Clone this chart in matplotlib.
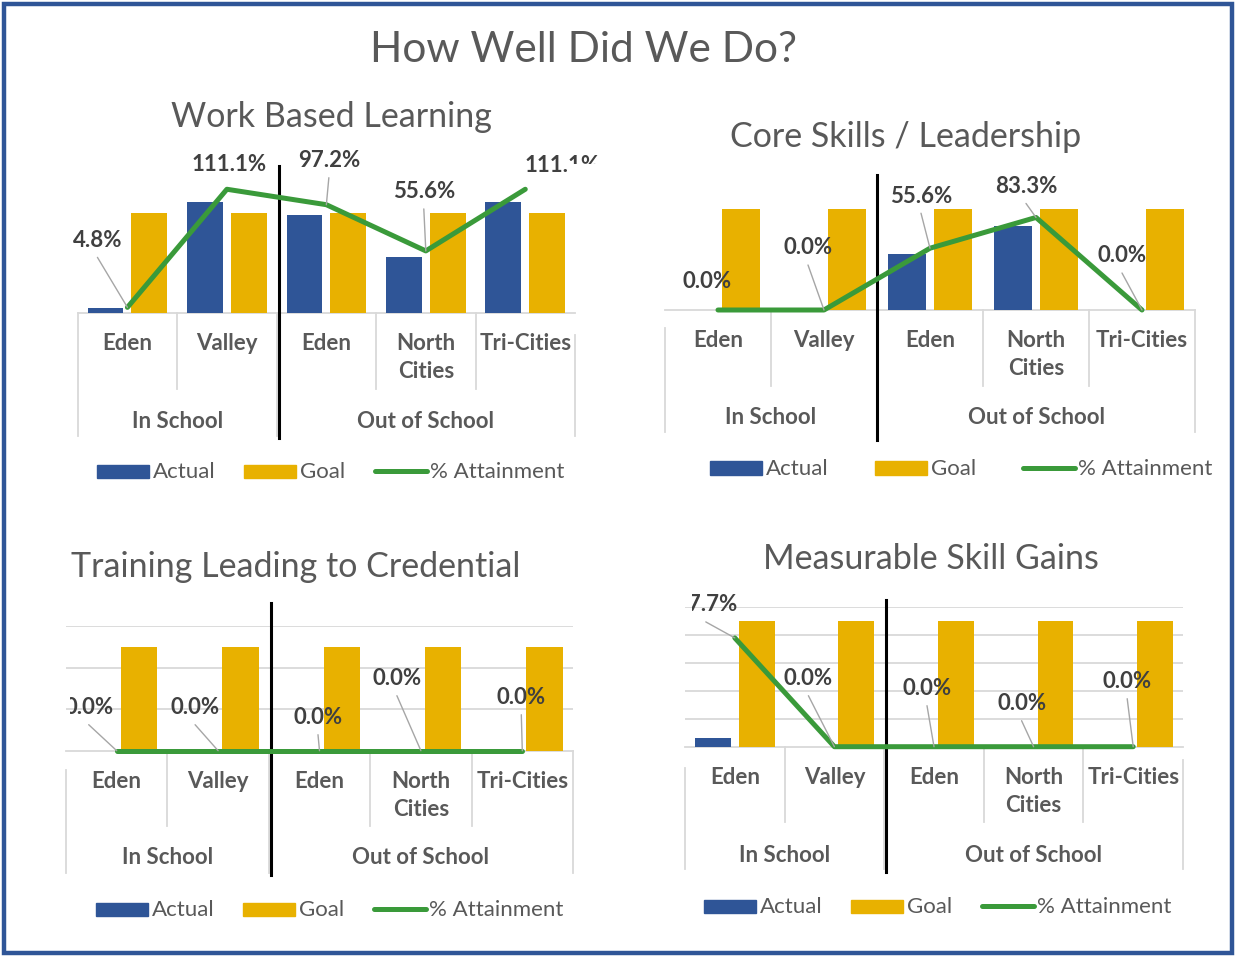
import matplotlib
matplotlib.use('Agg')
import matplotlib.pyplot as plt
import numpy as np
from matplotlib.patches import Rectangle
from matplotlib.lines import Line2D
from matplotlib.transforms import offset_copy

plt.rcParams['font.family'] = ['Lato', 'DejaVu Sans']

# --- data ---
categories = ['Eden', 'Valley', 'Eden', 'North\nCities', 'Tri-Cities']
groups = ['In School', 'Out of School']
group_centers = [0.5, 3.0]

wbl_actual = [4.8, 111.1, 97.2, 55.6, 111.1]
wbl_goal = [100, 100, 100, 100, 100]
wbl_pct = [4.8, 111.1, 97.2, 55.6, 111.1]

core_actual = [0, 0, 55.6, 83.3, 0]
core_goal = [100, 100, 100, 100, 100]
core_pct = [0.0, 0.0, 55.6, 83.3, 0.0]

tlc_actual = [0, 0, 0, 0, 0]
tlc_goal = [5, 5, 5, 5, 5]
tlc_pct = [0.0, 0.0, 0.0, 0.0, 0.0]

msg_actual = [0.6, 0, 0, 0, 0]
msg_goal = [9, 9, 9, 9, 9]
msg_pct = [77.7, 0.0, 0.0, 0.0, 0.0]

BLUE = '#2F5597'
GOLD = '#E8B100'
GREEN = '#3A9A3A'
GRID = '#D9D9D9'
TXT = '#595959'
LBL = '#404040'

W, H = 1236, 957
fig = plt.figure(figsize=(W / 100, H / 100), dpi=100)


def fx(x):
    return x / W


def fy(y):
    return 1 - y / H


def panel(title, actual, goal, pct, lay):
    L, R, top, base = lay['L'], lay['R'], lay['top'], lay['base']
    ax = fig.add_axes([fx(L), fy(base), (R - L) / W, (base - top) / H])
    ax.set_xlim(-0.5, 4.5)
    ax.set_ylim(0, lay['y1'])
    ax.axis('off')
    ax2 = ax.twinx()
    ax2.set_ylim(0, lay['y2'])
    ax2.axis('off')

    def ty(ypx):
        return (base - ypx) / (base - top)

    tr = ax.get_xaxis_transform()
    x = np.arange(len(categories))

    if lay['grid']:
        for v in np.arange(lay['grid'], lay['y1'] + 1e-9, lay['grid']):
            ax.axhline(v, color=GRID, lw=1.3, zorder=0)

    ax.bar(x - 0.22, actual, 0.36, color=BLUE, zorder=2)
    ax.bar(x + 0.22, goal, 0.36, color=GOLD, zorder=2)

    # category table
    ax.plot([-0.5, 4.5], [0, 0], transform=tr, color=GRID, lw=1.3, clip_on=False, zorder=1)
    for xd in [0.5, 2.5, 3.5]:
        ax.plot([xd, xd], [0, ty(lay['mid'])], transform=tr, color=GRID, lw=1.3, clip_on=False)
    for xd, y0 in [(-0.5, lay['lstart']), (1.5, base), (4.5, lay['rstart'])]:
        ax.plot([xd, xd], [ty(y0), ty(lay['bot'])], transform=tr, color=GRID, lw=1.3,
                clip_on=False)
    ax.plot([lay['sep'], lay['sep']], [ty(lay['sep_top']), ty(lay['sep_bot'])], transform=tr,
            color='black', lw=2.2, clip_on=False, zorder=5)

    for i, c in enumerate(categories):
        ax.text(i, ty(lay['lab1'] - 12), c, transform=tr, ha='center', va='top', fontsize=16,
                fontweight='bold', color=TXT, linespacing=1.4)
    for g, gc in zip(groups, group_centers):
        ax.text(gc, ty(lay['lab2'] + 1), g, transform=tr, ha='center', va='center', fontsize=16,
                fontweight='bold', color=TXT)

    ax2.plot(x, pct, color=GREEN, lw=3.6, solid_joinstyle='round', solid_capstyle='round',
             clip_on=False, zorder=3)

    # data labels, clipped to the chart area like the original
    boxes = [Rectangle((fx(x0), fy(y1)), (x1 - x0) / W, (y1 - y0) / H, transform=fig.transFigure)
             for x0, y0, x1, y1 in lay['clip']]
    for i, (dx, dy, lead) in enumerate(lay['offs']):
        if lead:
            ax2.annotate('', xy=(i, pct[i]), xytext=(dx, -dy - 17), textcoords='offset pixels',
                         annotation_clip=False,
                         arrowprops=dict(arrowstyle='-', color='#A6A6A6', lw=1.0,
                                         shrinkA=0, shrinkB=0))
        for b in boxes:
            t = ax2.text(i, pct[i], f'{pct[i]:.1f}%',
                         transform=offset_copy(ax2.transData, fig=fig, x=dx, y=-dy, units='dots'),
                         ha='center', va='center', fontsize=16, fontweight='bold', color=LBL,
                         clip_on=True, zorder=6)
            t.set_clip_path(b)

    fig.text(fx(lay['title'][0]), fy(lay['title'][1] + 2), title, ha='center', va='center',
             fontsize=24.5, color=TXT)

    # legend
    ly = lay['leg_y']
    lx = lay['leg_x']
    for xx, col, name in [(lx[0], BLUE, 'Actual'), (lx[1], GOLD, 'Goal')]:
        fig.add_artist(Rectangle((fx(xx), fy(ly + 6.5)), 52 / W, 13 / H, color=col,
                                 transform=fig.transFigure))
        fig.text(fx(xx + 56), fy(ly + 1), name, ha='left', va='center', fontsize=16, color=TXT)
    fig.add_artist(Line2D([fx(lx[2] + 2), fx(lx[2] + 54)], [fy(ly), fy(ly)], color=GREEN, lw=3.6,
                          solid_capstyle='round', transform=fig.transFigure))
    fig.text(fx(lx[2] + 57), fy(ly + 1), '% Attainment', ha='left', va='center', fontsize=16,
             color=TXT)


lay_wbl = dict(L=77.7, R=575, top=162.7, base=312.7, y1=150, y2=135, grid=None,
               sep=1.52, sep_top=166, sep_bot=438, lab1=345, lab2=420, mid=389, bot=436,
               lstart=312.7, rstart=335,
               leg_y=471, leg_x=(97, 244, 373), title=(331, 115),
               clip=[(70, 0, 569, H), (569, 0, W, 164)],
               offs=[(-30, -67, True), (2, -25, False), (2.5, -44, True), (-2, -59, True),
                     (37, -24, False)])
lay_core = dict(L=665, R=1195, top=160, base=310, y1=148.5, y2=135, grid=None,
                sep=1.5, sep_top=175, sep_bot=440, lab1=342, lab2=417, mid=386, bot=432,
                lstart=328, rstart=310,
                leg_y=468, leg_x=(710, 875, 1021), clip=[(660, 0, 1200, H)], title=(906, 135),
                offs=[(-11, -28, False), (-16, -62, True), (-9, -52, True), (-10, -31, True),
                      (-20, -54, True)])
lay_tlc = dict(L=66, R=573, top=626, base=750.7, y1=6, y2=1, grid=2,
               sep=1.52, sep_top=603, sep_bot=875, lab1=783, lab2=857, mid=826, bot=873,
               lstart=770, rstart=750.7,
               leg_y=909, leg_x=(96, 243, 372), clip=[(70, 0, 580, H)], title=(296, 565),
               offs=[(-28, -43, True), (-23, -43, True), (-1.5, -33, True), (-24, -72, True),
                     (-1, -53, True)])
lay_msg = dict(L=685, R=1183, top=606.7, base=746.7, y1=10, y2=100, grid=2,
               sep=1.52, sep_top=600, sep_bot=872, lab1=779, lab2=854, mid=822, bot=869,
               lstart=768, rstart=760,
               leg_y=906, leg_x=(704, 851, 980), clip=[(692, 0, 1190, H)], title=(931, 557),
               offs=[(-29, -33, True), (-26, -68, True), (-7, -58, True), (-12, -43, True),
                     (-6, -65, True)])

panel('Work Based Learning', wbl_actual, wbl_goal, wbl_pct, lay_wbl)
panel('Core Skills / Leadership', core_actual, core_goal, core_pct, lay_core)
panel('Training Leading to Credential', tlc_actual, tlc_goal, tlc_pct, lay_tlc)
panel('Measurable Skill Gains', msg_actual, msg_goal, msg_pct, lay_msg)

fig.text(fx(584), fy(50), 'How Well Did We Do?', ha='center', va='center', fontsize=30.5,
         color=TXT)

# outer frame
fig.add_artist(Rectangle((fx(4), fy(953)), 1228 / W, 949 / H, fill=False, edgecolor='#2F5597',
                         lw=3.2, transform=fig.transFigure))

fig.savefig('out.png', dpi=100)
